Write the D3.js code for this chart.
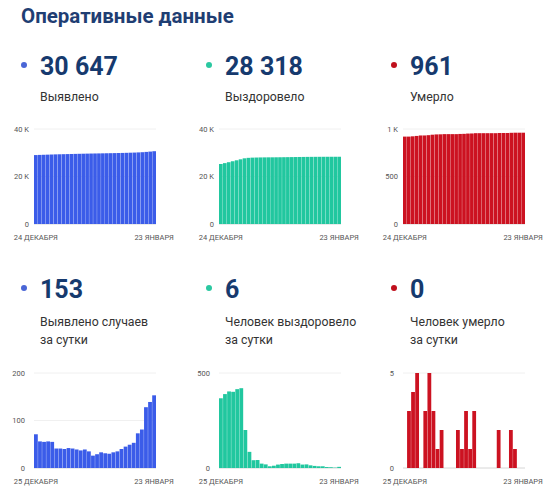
<!DOCTYPE html>
<html>
<head>
<meta charset="utf-8">
<script src="https://cdn.jsdelivr.net/npm/d3@7"></script>
<style>
  body { margin: 0; background: #fff; }
  text { font-family: Roboto, "Noto Sans", sans-serif; }
</style>
</head>
<body>
<svg width="546" height="497"></svg>
<script>
// cumulative series, 24 Dec .. 23 Jan
var totalCases = [29021, 29092, 29148, 29203, 29259, 29314, 29355, 29396, 29436, 29478, 29519, 29558, 29595, 29634, 29669, 29695,
  29724, 29757, 29788, 29818, 29851, 29886, 29926, 29971, 30020, 30073, 30146, 30227, 30355, 30494, 30647];
var totalRecovered = [25262, 25629, 26018, 26421, 26822, 27237, 27657, 27857, 27942, 27983, 28025, 28048, 28067, 28076, 28088, 28106,
  28127, 28150, 28173, 28196, 28221, 28239, 28258, 28272, 28283, 28292, 28301, 28306, 28310, 28312, 28318];
var totalDeaths = [920, 920, 923, 927, 932, 932, 935, 940, 943, 944, 946, 946, 946, 946, 948, 949,
  952, 953, 956, 956, 956, 956, 956, 956, 958, 958, 958, 960, 961, 961, 961];

// daily series, 25 Dec .. 23 Jan
var dailyCases = [71, 56, 55, 56, 55, 41, 41, 40, 42, 41, 39, 37, 39, 35, 26, 29, 33, 31, 30, 33, 35, 40, 45, 49, 53, 73, 81, 128, 139, 153];
var dailyRecovered = [367, 389, 403, 401, 415, 420, 200, 85, 41, 42, 23, 19, 9, 12, 18, 21, 23, 23, 23, 25, 18, 19, 14, 11, 9, 9, 5, 4, 2, 6];
var dailyDeaths = [0, 3, 4, 5, 0, 3, 5, 3, 1, 2, 0, 0, 0, 2, 1, 3, 1, 3, 0, 0, 0, 0, 0, 2, 0, 0, 2, 1, 0, 0];

var headlines = ["30 647", "28 318", "961", "153", "6", "0"];
var captions = [["Выявлено"], ["Выздоровело"], ["Умерло"],
  ["Выявлено случаев", "за сутки"], ["Человек выздоровело", "за сутки"], ["Человек умерло", "за сутки"]];
var topDates = ["24 ДЕКАБРЯ", "23 ЯНВАРЯ"];
var bottomDates = ["25 ДЕКАБРЯ", "23 ЯНВАРЯ"];
var topTicks = [[0, 20000, 40000], [0, 20000, 40000], [0, 500, 1000]];
var bottomTicks = [[0, 100, 200], [0, 500], [0, 5]];

var colors = ["#3b5ce9", "#21c79f", "#cc1221"];
var dotColors = ["#4a66d6", "#2bc8a1", "#c0101d"];

var svg = d3.select("svg");

svg.append("text")
  .attr("x", 21).attr("y", 23)
  .style("font-size", "20.5px").style("font-weight", "bold")
  .attr("fill", "#1f3e73")
  .text("Оперативные данные");

var colX = [40, 225, 410];
var plotX = [34, 219, 403];
var plotW = 122;

function fmtTick(v) {
  if (v >= 1000) return (v / 1000) + " K";
  return v;
}

function header(i, numY, capY) {
  var c = i % 3;
  svg.append("circle")
    .attr("cx", colX[c] - 16).attr("cy", numY - 10).attr("r", 3)
    .attr("fill", dotColors[c]);
  svg.append("text")
    .attr("x", colX[c]).attr("y", numY)
    .style("font-size", "25px").style("font-weight", "bold")
    .attr("fill", "#163a6e")
    .text(headlines[i]);
  captions[i].forEach(function (line, k) {
    svg.append("text")
      .attr("x", colX[c]).attr("y", capY + k * 18)
      .style("font-size", "12.3px")
      .attr("fill", "#333")
      .text(line);
  });
}

function chart(c, data, ticks, dates, y0, y1, labelGap) {
  var x = d3.scaleBand().domain(d3.range(data.length))
    .range([plotX[c], plotX[c] + plotW]).paddingInner(0.07);
  var y = d3.scaleLinear().domain([0, ticks[ticks.length - 1]]).range([y0, y1]);
  var g = svg.append("g");

  g.selectAll("line.grid").data(ticks).enter().append("line")
    .attr("x1", plotX[c]).attr("x2", plotX[c] + plotW)
    .attr("y1", function (d) { return y(d); }).attr("y2", function (d) { return y(d); })
    .attr("stroke", function (d) { return d === 0 ? "#ccc" : "#ececec"; })
    .attr("stroke-width", 0.8);

  g.selectAll("rect").data(data).enter().append("rect")
    .attr("x", function (d, i) { return x(i); })
    .attr("width", x.bandwidth())
    .attr("y", function (d) { return y(d); })
    .attr("height", function (d) { return y0 - y(d); })
    .attr("fill", colors[c]);

  g.selectAll("text.yt").data(ticks).enter().append("text")
    .attr("x", plotX[c] - labelGap)
    .attr("y", function (d) { return y(d) + 2.5; })
    .attr("text-anchor", "end")
    .style("font-size", "7.5px")
    .attr("fill", "#555")
    .text(fmtTick);

  var ends = [0, data.length - 1];
  g.selectAll("text.xt").data(ends).enter().append("text")
    .attr("x", function (d) { return x(d) + x.bandwidth() / 2; })
    .attr("y", y0 + 16)
    .attr("text-anchor", "middle")
    .style("font-size", "7.5px")
    .attr("fill", "#555")
    .text(function (d, k) { return dates[k]; });
}

for (var i = 0; i < 3; i++) header(i, 75, 101);
for (var j = 3; j < 6; j++) header(j, 298, 326);

chart(0, totalCases, topTicks[0], topDates, 224, 129, 5);
chart(1, totalRecovered, topTicks[1], topDates, 224, 129, 5);
chart(2, totalDeaths, topTicks[2], topDates, 224, 129, 5);
chart(0, dailyCases, bottomTicks[0], bottomDates, 468, 373, 9);
chart(1, dailyRecovered, bottomTicks[1], bottomDates, 468, 373, 9);
chart(2, dailyDeaths, bottomTicks[2], bottomDates, 468, 373, 9);
</script>
</body>
</html>
